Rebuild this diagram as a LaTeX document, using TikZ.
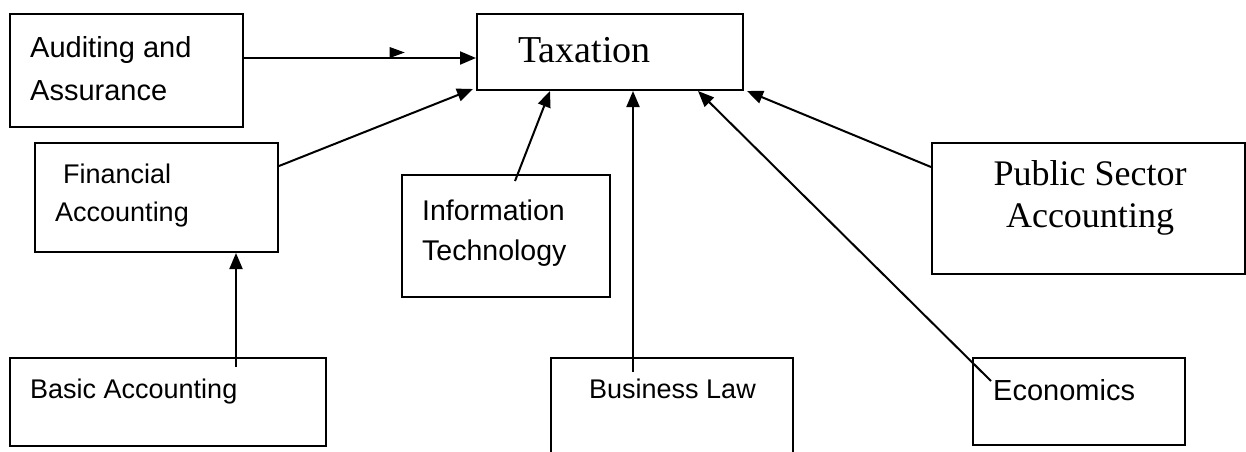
\documentclass[tikz,border=0pt]{standalone}
\usepackage{fontspec}
\setmainfont{Liberation Serif}
\setsansfont{Liberation Sans}
\usetikzlibrary{arrows.meta}

\begin{document}
\begin{tikzpicture}[x=1pt, y=-1pt,
    box/.style = {rectangle, draw, line width=2pt, inner sep=0pt},
    sanstext/.style = {inner sep=0pt, align=left, font=\sffamily\fontsize{28}{42}\selectfont},
    serftext/.style = {inner sep=0pt, align=center, font=\rmfamily\fontsize{37}{42}\selectfont},
    link/.style = {line width=2pt, -{Triangle[length=16pt, width=13pt]}}]
  \useasboundingbox (0, 0) rectangle (1246, 451);

  % Subjects.
  \node at (126.5, 70.5) [box, minimum width=233pt, minimum height=113pt, name=Auditing] {};
  \node at (610, 52) [box, minimum width=266pt, minimum height=76pt, name=Taxation] {};
  \node at (156.5, 197.5) [box, minimum width=243pt, minimum height=109pt, name=Financial] {};
  \node at (168, 402) [box, minimum width=316pt, minimum height=88pt, name=Basic] {};
  \node at (506, 236) [box, minimum width=208pt, minimum height=122pt, name=InfoTech] {};
  \node at (672, 414) [box, minimum width=242pt, minimum height=112pt, name=BusinessLaw] {};
  \node at (1079, 401.5) [box, minimum width=212pt, minimum height=87pt, name=Economics] {};
  \node at (1088.5, 208.5) [box, minimum width=313pt, minimum height=131pt, name=PublicSector] {};

  % Labels (base is the last line).
  \node at (30, 100) [sanstext, font=\sffamily\fontsize{29}{43}\selectfont, anchor=base west, name=AuditingText] {Auditing and\\Assurance};
  \node at (518, 62) [serftext, font=\rmfamily\fontsize{38}{42}\selectfont, anchor=base west, name=TaxationText] {Taxation};
  \node at (55, 221) [sanstext, font=\sffamily\fontsize{27}{38}\selectfont, anchor=base west, name=FinancialText] {\hspace{8pt}Financial\\Accounting};
  \node at (30, 398) [sanstext, font=\sffamily\fontsize{27}{38}\selectfont, anchor=base west, name=BasicText] {Basic Accounting};
  \node at (422, 260) [sanstext, font=\sffamily\fontsize{28.5}{40}\selectfont, anchor=base west, name=InfoTechText] {Information\\Technology};
  \node at (589, 398) [sanstext, font=\sffamily\fontsize{27}{38}\selectfont, anchor=base west, name=BusinessLawText] {Business Law};
  \node at (993, 400) [sanstext, font=\sffamily\fontsize{29}{40}\selectfont, anchor=base west, name=EconomicsText] {Economics};
  \node at (1090, 227) [serftext, font=\rmfamily\fontsize{36}{42}\selectfont, anchor=base, name=PublicSectorText] {Public Sector\\Accounting};

  % Prerequisite links.
  \draw [link] ([yshift=12.5pt]Auditing.east)
               to coordinate [pos=0.628] (StrayTip)
               ([yshift=-6pt]Taxation.west);
  \fill (StrayTip) -- ++(0, -11) -- ++(15, 5.5) -- cycle;
  \draw [link] ([yshift=31.5pt]Financial.east)
               to
               ([shift={(-3pt, 2pt)}]Taxation.south west);
  \draw [link] ([xshift=68pt, yshift=-10pt]Basic.north)
               to
               ([xshift=68pt]Basic.north |- Financial.south);
  \draw [link] ([xshift=9pt, yshift=-7pt]InfoTech.north)
               to
               ([xshift=-60pt]Taxation.south);
  \draw [link] ([xshift=-39pt, yshift=-15pt]BusinessLaw.north)
               to
               ([xshift=-39pt]BusinessLaw.north |- Taxation.south);
  \draw [link] ([xshift=19pt, yshift=-24pt]Economics.north west)
               to
               ([xshift=88pt]Taxation.south);
  \draw [link] ([yshift=41.5pt]PublicSector.west)
               to
               ([xshift=3pt]Taxation.south east);
\end{tikzpicture}
\end{document}
